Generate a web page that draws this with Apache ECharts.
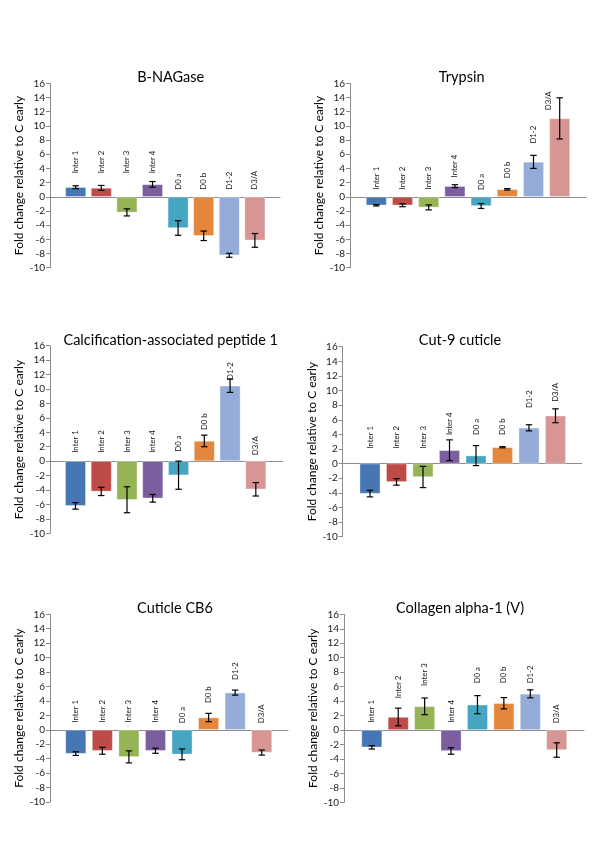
<!DOCTYPE html>
<html><head><meta charset="utf-8">
<script src="https://cdn.jsdelivr.net/npm/echarts@6/dist/echarts.min.js"></script>
<style>html,body{margin:0;padding:0;background:#fff}#c{width:600px;height:867px}</style>
</head><body><div id="c"></div>
<script>
// ---------- data ----------
const categories = ['Inter 1','Inter 2','Inter 3','Inter 4','D0 a','D0 b','D1-2','D3/A'];
const yMin = -10, yMax = 16, yStep = 2;
const yAxisTitle = 'Fold change relative to C early';
const titles = ['B-NAGase','Trypsin','Calcification-associated peptide 1','Cut-9 cuticle','Cuticle CB6','Collagen alpha-1 (V)'];

const bNagaseMean = [1.35, 1.25, -2.2, 1.75, -4.4, -5.5, -8.25, -6.15];
const bNagaseErr  = [0.2, 0.35, 0.5, 0.4, 1.03, 0.67, 0.28, 0.97];
const trypsinMean = [-1.2, -1.2, -1.5, 1.5, -1.3, 1.05, 4.92, 11.05];
const trypsinErr  = [0.1, 0.2, 0.35, 0.2, 0.35, 0.1, 0.92, 2.9];
const calcMean = [-6.2, -4.2, -5.35, -5.15, -1.95, 2.8, 10.45, -3.9];
const calcErr  = [0.45, 0.57, 1.8, 0.53, 1.95, 0.8, 0.92, 0.93];
const cut9Mean = [-4.1, -2.5, -1.83, 1.83, 1.1, 2.24, 4.9, 6.55];
const cut9Err  = [0.45, 0.45, 1.45, 1.42, 1.37, 0.08, 0.42, 0.95];
const cb6Mean = [-3.3, -2.9, -3.75, -2.9, -3.4, 1.7, 5.15, -3.15];
const cb6Err  = [0.25, 0.48, 0.83, 0.35, 0.75, 0.58, 0.35, 0.35];
const collagenMean = [-2.4, 1.8, 3.27, -2.9, 3.5, 3.7, 5.0, -2.77];
const collagenErr  = [0.23, 1.22, 1.15, 0.45, 1.25, 0.78, 0.55, 1.0];

// ---------- layout (label anchor heights in value units, shifts in category widths, panel geometry in px) ----------
const labelBase = [
  [3.3, 3.3, 3.3, 3.3, 1.0, 1.0, 1.0, 1.0],
  [1.03, 1.03, 1.03, 2.73, 0.94, 2.6, 7.5, 12.2],
  [1.16, 1.16, 1.16, 1.16, 1.3, 4.3, 11.25, 0.83],
  [2.05, 2.05, 2.05, 3.9, 3.9, 3.9, 7.6, 8.45],
  [1.0, 1.0, 1.0, 1.0, 0.92, 3.7, 6.9, 0.92],
  [1.0, 4.4, 6.1, 1.0, 6.45, 6.45, 6.45, 0.92]
];
const labelShift = [
  [0, 0, 0, 0, 0, 0, 0, 0],
  [0, 0, 0, 0, 0, 0, 0, -0.43],
  [0, 0, 0, 0, 0, 0, 0, 0],
  [0, 0, 0, 0, 0, 0, 0, 0],
  [0, 0, 0, 0, 0, 0, 0, 0],
  [0, 0, 0, 0, 0, 0, 0, 0]
];
const panels = [
  {axisX: 50,    top: 83.3,  bottom: 267.7, xEnd: 280,   bandL: 62.9,  bandR: 267.7, tx: 170.7, ty: 70},
  {axisX: 350,   top: 83.3,  bottom: 267.7, xEnd: 586,   bandL: 363.2, bandR: 572.8, tx: 461.7, ty: 70},
  {axisX: 50,    top: 345.7, bottom: 533.3, xEnd: 282.7, bandL: 62.6,  bandR: 268.7, tx: 170.7, ty: 332.5},
  {axisX: 342.7, top: 346.7, bottom: 536.7, xEnd: 581.7, bandL: 356.75,bandR: 568.75,tx: 460,   ty: 333},
  {axisX: 50,    top: 614.3, bottom: 802,   xEnd: 288,   bandL: 62.5,  bandR: 275,   tx: 175,   ty: 601},
  {axisX: 344,   top: 614.3, bottom: 802.3, xEnd: 584,   bandL: 358.6, bandR: 569.9, tx: 460,   ty: 601}
];
const means = [bNagaseMean, trypsinMean, calcMean, cut9Mean, cb6Mean, collagenMean];
const errs  = [bNagaseErr, trypsinErr, calcErr, cut9Err, cb6Err, collagenErr];
const barColors = ['#4677B4','#BE4B48','#94B456','#7A5E9E','#46A6C1','#E4873C','#94ACD7','#D79593'];

const FONT = 'Lato, "Open Sans", sans-serif';
const axisGrey = '#8C8C8C';

const grid = [], xAxis = [], yAxis = [], series = [], title = [];
panels.forEach((p, k) => {
  const fi = 2 * k, bi = 2 * k + 1;
  grid.push({left: p.axisX, top: p.top, width: p.xEnd - p.axisX, height: p.bottom - p.top, outerBoundsMode: 'none', containLabel: false});
  grid.push({left: p.bandL, top: p.top, width: p.bandR - p.bandL, height: p.bottom - p.top, outerBoundsMode: 'none', containLabel: false});
  xAxis.push({gridIndex: fi, type: 'value', min: 0, max: 1, axisLine: {show: true, onZero: true, lineStyle: {color: axisGrey, width: 1}},
    axisTick: {show: false}, axisLabel: {show: false}, splitLine: {show: false}});
  xAxis.push({gridIndex: bi, type: 'category', data: categories, show: false, boundaryGap: true});
  yAxis.push({gridIndex: fi, type: 'value', min: yMin, max: yMax, interval: yStep,
    axisLine: {show: true, lineStyle: {color: axisGrey, width: 1}},
    axisTick: {show: true, length: 4, lineStyle: {color: axisGrey}},
    axisLabel: {fontSize: 10, color: '#1a1a1a', margin: 5, fontFamily: FONT},
    splitLine: {show: false},
    name: yAxisTitle, nameLocation: 'middle', nameGap: 25,
    nameTextStyle: {fontSize: 12, color: '#000', fontFamily: FONT}});
  yAxis.push({gridIndex: bi, type: 'value', min: yMin, max: yMax, interval: yStep, show: false});
  title.push({text: titles[k], left: p.tx, top: p.ty, textAlign: 'center', padding: 0,
    textStyle: {fontSize: 14.5, fontWeight: 'normal', color: '#000', fontFamily: FONT}});
  series.push({type: 'bar', xAxisIndex: bi, yAxisIndex: bi, barWidth: 20.7,
    data: means[k].map((v, i) => ({value: v, itemStyle: {color: barColors[i]}})),
    itemStyle: {borderColor: 'rgba(255,255,255,0.6)', borderWidth: 0.6},
    animation: false, silent: true});
  series.push({type: 'custom', xAxisIndex: bi, yAxisIndex: bi, animation: false, silent: true, z: 5,
    data: means[k].map((v, i) => [i, v, errs[k][i]]),
    renderItem: (params, api) => {
      const i = api.value(0), m = api.value(1), e = api.value(2);
      const t = api.coord([i, m + e]), b = api.coord([i, m - e]);
      const c = 3.2, st = {stroke: '#000', lineWidth: 1.2};
      return {type: 'group', children: [
        {type: 'line', shape: {x1: t[0], y1: t[1], x2: b[0], y2: b[1]}, style: st},
        {type: 'line', shape: {x1: t[0] - c, y1: t[1], x2: t[0] + c, y2: t[1]}, style: st},
        {type: 'line', shape: {x1: b[0] - c, y1: b[1], x2: b[0] + c, y2: b[1]}, style: st}
      ]};
    }});
  series.push({type: 'custom', xAxisIndex: bi, yAxisIndex: bi, animation: false, silent: true, z: 6,
    data: labelBase[k].map((v, i) => [i, v, labelShift[k][i]]),
    renderItem: (params, api) => {
      const pt = api.coord([api.value(0), api.value(1)]);
      const bandW = api.size([1, 0])[0];
      return {type: 'text', x: pt[0] + api.value(2) * bandW, y: pt[1], rotation: Math.PI / 2,
        style: {text: categories[params.dataIndex], fontSize: 7.8, fill: '#111', fontFamily: FONT,
          align: 'left', verticalAlign: 'middle'}};
    }});
});

const chart = echarts.init(document.getElementById('c'), null, {renderer: 'canvas'});
chart.setOption({backgroundColor: '#fff', animation: false, title, grid, xAxis, yAxis, series});
</script>
</body></html>
